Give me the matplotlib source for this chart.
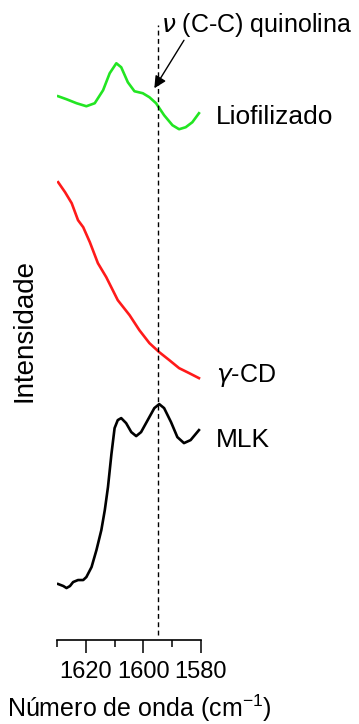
import matplotlib
matplotlib.use('Agg')
import matplotlib.pyplot as plt
from matplotlib.ticker import MultipleLocator

plt.rcParams['font.family'] = ['Liberation Sans', 'DejaVu Sans']
plt.rcParams['mathtext.fontset'] = 'dejavusans'

# stacked FTIR spectra (offset intensities, a.u.)
wn_lio = [1629.6, 1626.7, 1623.2, 1619.8, 1616.9, 1614.0, 1611.7, 1609.4,
          1607.7, 1605.4, 1603.1, 1600.2, 1597.9, 1595.6, 1592.8, 1589.9,
          1587.6, 1585.3, 1583.0, 1580.7]
int_lio = [5.44, 5.41, 5.37, 5.34, 5.37, 5.50, 5.67, 5.77,
           5.73, 5.58, 5.49, 5.47, 5.43, 5.37, 5.25, 5.15,
           5.11, 5.13, 5.18, 5.27]

wn_gcd = [1629.6, 1627.2, 1624.9, 1622.7, 1620.9, 1618.6, 1615.8, 1612.9,
          1608.9, 1604.8, 1601.4, 1597.9, 1594.5, 1591.0, 1587.6, 1584.1,
          1580.7]
int_gcd = [4.58, 4.48, 4.37, 4.20, 4.13, 3.98, 3.77, 3.63,
           3.40, 3.25, 3.10, 2.97, 2.88, 2.80, 2.72, 2.67,
           2.62]

wn_mlk = [1629.6, 1627.8, 1626.7, 1625.5, 1624.4, 1622.7, 1620.9, 1619.8,
          1618.0, 1616.3, 1614.6, 1613.4, 1612.3, 1611.1, 1610.0, 1608.9,
          1607.7, 1606.0, 1604.2, 1602.5, 1600.8, 1598.5, 1596.2, 1594.5,
          1592.8, 1590.4, 1588.2, 1585.9, 1583.6, 1580.7]
int_mlk = [0.56, 0.54, 0.52, 0.54, 0.58, 0.60, 0.60, 0.63,
           0.73, 0.90, 1.10, 1.30, 1.53, 1.86, 2.12, 2.20,
           2.22, 2.17, 2.08, 2.04, 2.08, 2.20, 2.32, 2.36,
           2.32, 2.18, 2.03, 1.97, 2.00, 2.10]

band_pos = 1595  # nu(C-C) quinoline

fig = plt.figure(figsize=(3.59, 7.24), dpi=100)
ax = fig.add_axes([0.1588, 0.116, 0.401, 0.856])

ax.plot(wn_lio, int_lio, color='#22e522', lw=1.9, solid_joinstyle='round')
ax.plot(wn_gcd, int_gcd, color='#ff1a1a', lw=1.9, solid_joinstyle='round')
ax.plot(wn_mlk, int_mlk, color='black', lw=1.9, solid_joinstyle='round')

ax.plot([band_pos, band_pos], [0.05, 6.15], color='black', lw=1.0,
        ls=(0, (3.5, 2.5)))

ax.text(1574.8, 5.23, 'Liofilizado', fontsize=19, va='center', ha='left')
ax.text(1574.8, 2.65, r'$\gamma$-CD', fontsize=18, va='center', ha='left')
ax.text(1574.8, 2.00, 'MLK', fontsize=19, va='center', ha='left')
ax.text(1593.8, 6.15, r'$\nu$ (C-C) quinolina', fontsize=18, va='center', ha='left')

ax.annotate('', xy=(1596.2, 5.52), xytext=(1585.9, 6.0),
            arrowprops=dict(arrowstyle='-|>', color='black', lw=1.0,
                            mutation_scale=18, shrinkA=0, shrinkB=0))

ax.set_xlim(1630, 1580)
ax.set_ylim(0, 6.2)
ax.xaxis.set_major_locator(MultipleLocator(20))
ax.xaxis.set_minor_locator(MultipleLocator(10))
ax.set_xticks([1620, 1600, 1580])
ax.tick_params(axis='x', which='major', direction='out', length=9, width=1.1,
               labelsize=17, pad=6)
ax.tick_params(axis='x', which='minor', direction='out', length=5, width=1.1)
ax.set_yticks([])
for side in ['left', 'top', 'right']:
    ax.spines[side].set_visible(False)
ax.spines['bottom'].set_linewidth(1.2)

ax.set_xlabel(r'Número de onda (cm$^{\mathregular{-1}}$)', fontsize=18)
ax.set_ylabel('Intensidade', fontsize=20, labelpad=14)
ax.xaxis.set_label_coords(0.57, -0.085)

fig.savefig('out.png', dpi=100)
